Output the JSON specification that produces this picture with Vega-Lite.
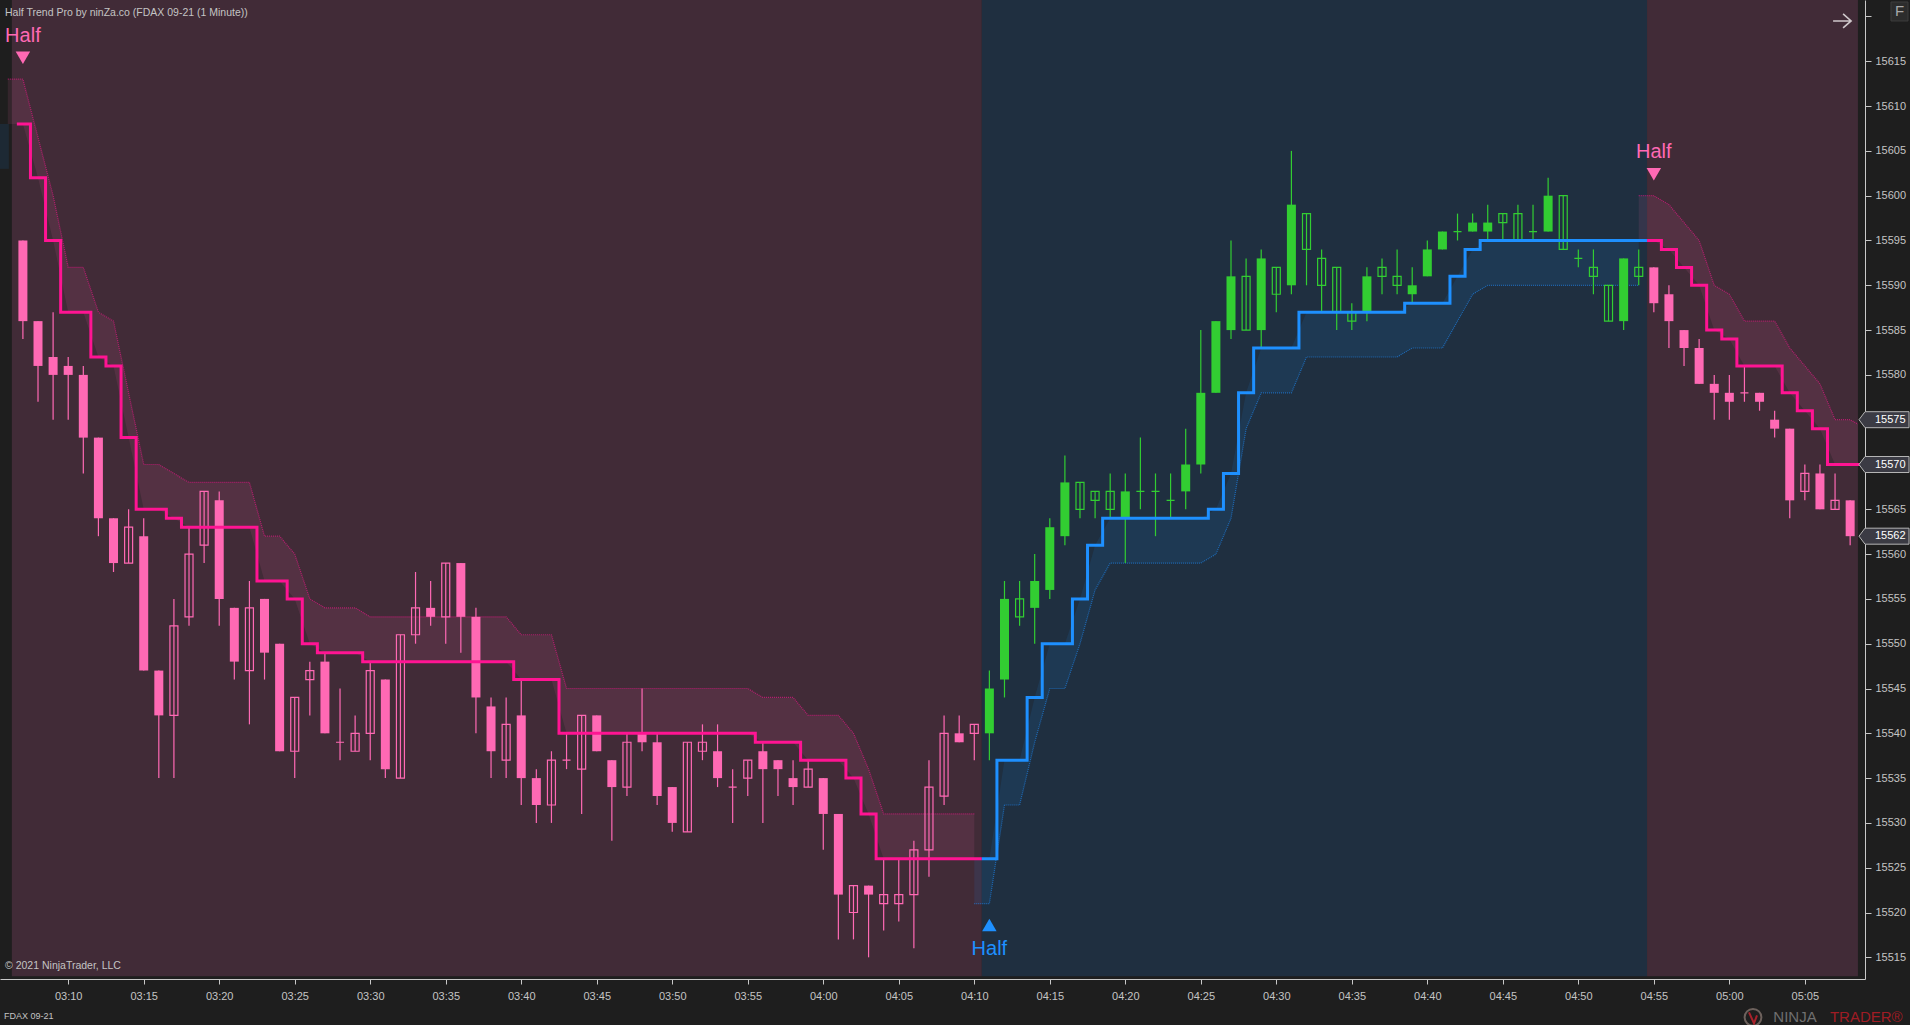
{
  "$schema": "https://vega.github.io/schema/vega-lite/v6.json",
  "width": 1865,
  "height": 979,
  "autosize": "none",
  "padding": {"left": 0, "top": 0, "right": 45, "bottom": 46},
  "background": "#1e1e1e",
  "config": {
    "view": {"stroke": null},
    "font": "Liberation Sans"
  },
  "datasets": {
    "regions": [
      {"t": "2021-08-20T03:06:16", "t2": "2021-08-20T04:10:30", "lo": 15512.9, "hi": 15621.84, "dir": "down"},
      {"t": "2021-08-20T04:10:30", "t2": "2021-08-20T04:54:33", "lo": 15512.9, "hi": 15621.84, "dir": "up"},
      {"t": "2021-08-20T04:54:33", "t2": "2021-08-20T05:08:31", "lo": 15512.9, "hi": 15621.84, "dir": "down"}
    ],
    "band": [
      {"t": "2021-08-20T03:05:29", "seg": "u0", "dir": "up", "edge": 15603, "base": 15608},
      {"t": "2021-08-20T03:06:04", "seg": "u0", "dir": "up", "edge": 15603, "base": 15608},
      {"t": "2021-08-20T03:06:00", "seg": "d1", "dir": "down", "edge": 15613, "base": 15608},
      {"t": "2021-08-20T03:07:00", "seg": "d1", "dir": "down", "edge": 15613, "base": 15608},
      {"t": "2021-08-20T03:08:00", "seg": "d1", "dir": "down", "edge": 15606.5, "base": 15602},
      {"t": "2021-08-20T03:09:00", "seg": "d1", "dir": "down", "edge": 15600, "base": 15595},
      {"t": "2021-08-20T03:10:00", "seg": "d1", "dir": "down", "edge": 15592, "base": 15587},
      {"t": "2021-08-20T03:11:00", "seg": "d1", "dir": "down", "edge": 15592, "base": 15587},
      {"t": "2021-08-20T03:12:00", "seg": "d1", "dir": "down", "edge": 15587, "base": 15582},
      {"t": "2021-08-20T03:13:00", "seg": "d1", "dir": "down", "edge": 15586, "base": 15581},
      {"t": "2021-08-20T03:14:00", "seg": "d1", "dir": "down", "edge": 15578, "base": 15573},
      {"t": "2021-08-20T03:15:00", "seg": "d1", "dir": "down", "edge": 15570, "base": 15565},
      {"t": "2021-08-20T03:16:00", "seg": "d1", "dir": "down", "edge": 15570, "base": 15565},
      {"t": "2021-08-20T03:17:00", "seg": "d1", "dir": "down", "edge": 15569, "base": 15564},
      {"t": "2021-08-20T03:18:00", "seg": "d1", "dir": "down", "edge": 15568, "base": 15563},
      {"t": "2021-08-20T03:22:00", "seg": "d1", "dir": "down", "edge": 15568, "base": 15563},
      {"t": "2021-08-20T03:23:00", "seg": "d1", "dir": "down", "edge": 15562, "base": 15557},
      {"t": "2021-08-20T03:24:00", "seg": "d1", "dir": "down", "edge": 15562, "base": 15557},
      {"t": "2021-08-20T03:25:00", "seg": "d1", "dir": "down", "edge": 15560, "base": 15555},
      {"t": "2021-08-20T03:26:00", "seg": "d1", "dir": "down", "edge": 15555, "base": 15550},
      {"t": "2021-08-20T03:27:00", "seg": "d1", "dir": "down", "edge": 15554, "base": 15549},
      {"t": "2021-08-20T03:29:00", "seg": "d1", "dir": "down", "edge": 15554, "base": 15549},
      {"t": "2021-08-20T03:30:00", "seg": "d1", "dir": "down", "edge": 15553, "base": 15548},
      {"t": "2021-08-20T03:39:00", "seg": "d1", "dir": "down", "edge": 15553, "base": 15548},
      {"t": "2021-08-20T03:40:00", "seg": "d1", "dir": "down", "edge": 15551, "base": 15546},
      {"t": "2021-08-20T03:42:00", "seg": "d1", "dir": "down", "edge": 15551, "base": 15546},
      {"t": "2021-08-20T03:43:00", "seg": "d1", "dir": "down", "edge": 15545, "base": 15540},
      {"t": "2021-08-20T03:55:00", "seg": "d1", "dir": "down", "edge": 15545, "base": 15540},
      {"t": "2021-08-20T03:56:00", "seg": "d1", "dir": "down", "edge": 15544, "base": 15539},
      {"t": "2021-08-20T03:58:00", "seg": "d1", "dir": "down", "edge": 15544, "base": 15539},
      {"t": "2021-08-20T03:59:00", "seg": "d1", "dir": "down", "edge": 15542, "base": 15537},
      {"t": "2021-08-20T04:01:00", "seg": "d1", "dir": "down", "edge": 15542, "base": 15537},
      {"t": "2021-08-20T04:02:00", "seg": "d1", "dir": "down", "edge": 15540, "base": 15535},
      {"t": "2021-08-20T04:03:00", "seg": "d1", "dir": "down", "edge": 15536, "base": 15531},
      {"t": "2021-08-20T04:04:00", "seg": "d1", "dir": "down", "edge": 15531, "base": 15526},
      {"t": "2021-08-20T04:10:00", "seg": "d1", "dir": "down", "edge": 15531, "base": 15526},
      {"t": "2021-08-20T04:10:00", "seg": "u1", "dir": "up", "edge": 15521, "base": 15526},
      {"t": "2021-08-20T04:11:00", "seg": "u1", "dir": "up", "edge": 15521, "base": 15526},
      {"t": "2021-08-20T04:12:00", "seg": "u1", "dir": "up", "edge": 15532, "base": 15537},
      {"t": "2021-08-20T04:13:00", "seg": "u1", "dir": "up", "edge": 15532, "base": 15537},
      {"t": "2021-08-20T04:14:00", "seg": "u1", "dir": "up", "edge": 15539, "base": 15544},
      {"t": "2021-08-20T04:15:00", "seg": "u1", "dir": "up", "edge": 15545, "base": 15550},
      {"t": "2021-08-20T04:16:00", "seg": "u1", "dir": "up", "edge": 15545, "base": 15550},
      {"t": "2021-08-20T04:17:00", "seg": "u1", "dir": "up", "edge": 15550, "base": 15555},
      {"t": "2021-08-20T04:18:00", "seg": "u1", "dir": "up", "edge": 15556, "base": 15561},
      {"t": "2021-08-20T04:19:00", "seg": "u1", "dir": "up", "edge": 15559, "base": 15564},
      {"t": "2021-08-20T04:25:00", "seg": "u1", "dir": "up", "edge": 15559, "base": 15564},
      {"t": "2021-08-20T04:26:00", "seg": "u1", "dir": "up", "edge": 15560, "base": 15565},
      {"t": "2021-08-20T04:27:00", "seg": "u1", "dir": "up", "edge": 15564, "base": 15569},
      {"t": "2021-08-20T04:28:00", "seg": "u1", "dir": "up", "edge": 15574, "base": 15578},
      {"t": "2021-08-20T04:29:00", "seg": "u1", "dir": "up", "edge": 15578, "base": 15583},
      {"t": "2021-08-20T04:31:00", "seg": "u1", "dir": "up", "edge": 15578, "base": 15583},
      {"t": "2021-08-20T04:32:00", "seg": "u1", "dir": "up", "edge": 15582, "base": 15587},
      {"t": "2021-08-20T04:38:00", "seg": "u1", "dir": "up", "edge": 15582, "base": 15587},
      {"t": "2021-08-20T04:39:00", "seg": "u1", "dir": "up", "edge": 15583, "base": 15588},
      {"t": "2021-08-20T04:41:00", "seg": "u1", "dir": "up", "edge": 15583, "base": 15588},
      {"t": "2021-08-20T04:42:00", "seg": "u1", "dir": "up", "edge": 15586, "base": 15591},
      {"t": "2021-08-20T04:43:00", "seg": "u1", "dir": "up", "edge": 15589, "base": 15594},
      {"t": "2021-08-20T04:44:00", "seg": "u1", "dir": "up", "edge": 15590, "base": 15595},
      {"t": "2021-08-20T04:54:00", "seg": "u1", "dir": "up", "edge": 15590, "base": 15595},
      {"t": "2021-08-20T04:54:00", "seg": "d2", "dir": "down", "edge": 15600, "base": 15595},
      {"t": "2021-08-20T04:55:00", "seg": "d2", "dir": "down", "edge": 15600, "base": 15595},
      {"t": "2021-08-20T04:56:00", "seg": "d2", "dir": "down", "edge": 15599, "base": 15594},
      {"t": "2021-08-20T04:57:00", "seg": "d2", "dir": "down", "edge": 15597, "base": 15592},
      {"t": "2021-08-20T04:58:00", "seg": "d2", "dir": "down", "edge": 15595, "base": 15590},
      {"t": "2021-08-20T04:59:00", "seg": "d2", "dir": "down", "edge": 15590, "base": 15585},
      {"t": "2021-08-20T05:00:00", "seg": "d2", "dir": "down", "edge": 15589, "base": 15584},
      {"t": "2021-08-20T05:01:00", "seg": "d2", "dir": "down", "edge": 15586, "base": 15581},
      {"t": "2021-08-20T05:03:00", "seg": "d2", "dir": "down", "edge": 15586, "base": 15581},
      {"t": "2021-08-20T05:04:00", "seg": "d2", "dir": "down", "edge": 15583, "base": 15578},
      {"t": "2021-08-20T05:05:00", "seg": "d2", "dir": "down", "edge": 15581, "base": 15576},
      {"t": "2021-08-20T05:06:00", "seg": "d2", "dir": "down", "edge": 15579, "base": 15574},
      {"t": "2021-08-20T05:07:00", "seg": "d2", "dir": "down", "edge": 15575, "base": 15570},
      {"t": "2021-08-20T05:08:00", "seg": "d2", "dir": "down", "edge": 15575, "base": 15570},
      {"t": "2021-08-20T05:08:31", "seg": "d2", "dir": "down", "edge": 15574.5, "base": 15570}
    ],
    "trend": [
      {"t": "2021-08-20T03:06:36", "seg": "d1", "dir": "down", "v": 15608},
      {"t": "2021-08-20T03:07:00", "seg": "d1", "dir": "down", "v": 15608},
      {"t": "2021-08-20T03:08:00", "seg": "d1", "dir": "down", "v": 15602},
      {"t": "2021-08-20T03:09:00", "seg": "d1", "dir": "down", "v": 15595},
      {"t": "2021-08-20T03:10:00", "seg": "d1", "dir": "down", "v": 15587},
      {"t": "2021-08-20T03:11:00", "seg": "d1", "dir": "down", "v": 15587},
      {"t": "2021-08-20T03:12:00", "seg": "d1", "dir": "down", "v": 15582},
      {"t": "2021-08-20T03:13:00", "seg": "d1", "dir": "down", "v": 15581},
      {"t": "2021-08-20T03:14:00", "seg": "d1", "dir": "down", "v": 15573},
      {"t": "2021-08-20T03:15:00", "seg": "d1", "dir": "down", "v": 15565},
      {"t": "2021-08-20T03:16:00", "seg": "d1", "dir": "down", "v": 15565},
      {"t": "2021-08-20T03:17:00", "seg": "d1", "dir": "down", "v": 15564},
      {"t": "2021-08-20T03:18:00", "seg": "d1", "dir": "down", "v": 15563},
      {"t": "2021-08-20T03:19:00", "seg": "d1", "dir": "down", "v": 15563},
      {"t": "2021-08-20T03:20:00", "seg": "d1", "dir": "down", "v": 15563},
      {"t": "2021-08-20T03:21:00", "seg": "d1", "dir": "down", "v": 15563},
      {"t": "2021-08-20T03:22:00", "seg": "d1", "dir": "down", "v": 15563},
      {"t": "2021-08-20T03:23:00", "seg": "d1", "dir": "down", "v": 15557},
      {"t": "2021-08-20T03:24:00", "seg": "d1", "dir": "down", "v": 15557},
      {"t": "2021-08-20T03:25:00", "seg": "d1", "dir": "down", "v": 15555},
      {"t": "2021-08-20T03:26:00", "seg": "d1", "dir": "down", "v": 15550},
      {"t": "2021-08-20T03:27:00", "seg": "d1", "dir": "down", "v": 15549},
      {"t": "2021-08-20T03:28:00", "seg": "d1", "dir": "down", "v": 15549},
      {"t": "2021-08-20T03:29:00", "seg": "d1", "dir": "down", "v": 15549},
      {"t": "2021-08-20T03:30:00", "seg": "d1", "dir": "down", "v": 15548},
      {"t": "2021-08-20T03:31:00", "seg": "d1", "dir": "down", "v": 15548},
      {"t": "2021-08-20T03:32:00", "seg": "d1", "dir": "down", "v": 15548},
      {"t": "2021-08-20T03:33:00", "seg": "d1", "dir": "down", "v": 15548},
      {"t": "2021-08-20T03:34:00", "seg": "d1", "dir": "down", "v": 15548},
      {"t": "2021-08-20T03:35:00", "seg": "d1", "dir": "down", "v": 15548},
      {"t": "2021-08-20T03:36:00", "seg": "d1", "dir": "down", "v": 15548},
      {"t": "2021-08-20T03:37:00", "seg": "d1", "dir": "down", "v": 15548},
      {"t": "2021-08-20T03:38:00", "seg": "d1", "dir": "down", "v": 15548},
      {"t": "2021-08-20T03:39:00", "seg": "d1", "dir": "down", "v": 15548},
      {"t": "2021-08-20T03:40:00", "seg": "d1", "dir": "down", "v": 15546},
      {"t": "2021-08-20T03:41:00", "seg": "d1", "dir": "down", "v": 15546},
      {"t": "2021-08-20T03:42:00", "seg": "d1", "dir": "down", "v": 15546},
      {"t": "2021-08-20T03:43:00", "seg": "d1", "dir": "down", "v": 15540},
      {"t": "2021-08-20T03:44:00", "seg": "d1", "dir": "down", "v": 15540},
      {"t": "2021-08-20T03:45:00", "seg": "d1", "dir": "down", "v": 15540},
      {"t": "2021-08-20T03:46:00", "seg": "d1", "dir": "down", "v": 15540},
      {"t": "2021-08-20T03:47:00", "seg": "d1", "dir": "down", "v": 15540},
      {"t": "2021-08-20T03:48:00", "seg": "d1", "dir": "down", "v": 15540},
      {"t": "2021-08-20T03:49:00", "seg": "d1", "dir": "down", "v": 15540},
      {"t": "2021-08-20T03:50:00", "seg": "d1", "dir": "down", "v": 15540},
      {"t": "2021-08-20T03:51:00", "seg": "d1", "dir": "down", "v": 15540},
      {"t": "2021-08-20T03:52:00", "seg": "d1", "dir": "down", "v": 15540},
      {"t": "2021-08-20T03:53:00", "seg": "d1", "dir": "down", "v": 15540},
      {"t": "2021-08-20T03:54:00", "seg": "d1", "dir": "down", "v": 15540},
      {"t": "2021-08-20T03:55:00", "seg": "d1", "dir": "down", "v": 15540},
      {"t": "2021-08-20T03:56:00", "seg": "d1", "dir": "down", "v": 15539},
      {"t": "2021-08-20T03:57:00", "seg": "d1", "dir": "down", "v": 15539},
      {"t": "2021-08-20T03:58:00", "seg": "d1", "dir": "down", "v": 15539},
      {"t": "2021-08-20T03:59:00", "seg": "d1", "dir": "down", "v": 15537},
      {"t": "2021-08-20T04:00:00", "seg": "d1", "dir": "down", "v": 15537},
      {"t": "2021-08-20T04:01:00", "seg": "d1", "dir": "down", "v": 15537},
      {"t": "2021-08-20T04:02:00", "seg": "d1", "dir": "down", "v": 15535},
      {"t": "2021-08-20T04:03:00", "seg": "d1", "dir": "down", "v": 15531},
      {"t": "2021-08-20T04:04:00", "seg": "d1", "dir": "down", "v": 15526},
      {"t": "2021-08-20T04:05:00", "seg": "d1", "dir": "down", "v": 15526},
      {"t": "2021-08-20T04:06:00", "seg": "d1", "dir": "down", "v": 15526},
      {"t": "2021-08-20T04:07:00", "seg": "d1", "dir": "down", "v": 15526},
      {"t": "2021-08-20T04:08:00", "seg": "d1", "dir": "down", "v": 15526},
      {"t": "2021-08-20T04:09:00", "seg": "d1", "dir": "down", "v": 15526},
      {"t": "2021-08-20T04:10:00", "seg": "d1", "dir": "down", "v": 15526},
      {"t": "2021-08-20T04:10:30", "seg": "d1", "dir": "down", "v": 15526},
      {"t": "2021-08-20T04:10:30", "seg": "u1", "dir": "up", "v": 15526},
      {"t": "2021-08-20T04:11:00", "seg": "u1", "dir": "up", "v": 15526},
      {"t": "2021-08-20T04:12:00", "seg": "u1", "dir": "up", "v": 15537},
      {"t": "2021-08-20T04:13:00", "seg": "u1", "dir": "up", "v": 15537},
      {"t": "2021-08-20T04:14:00", "seg": "u1", "dir": "up", "v": 15544},
      {"t": "2021-08-20T04:15:00", "seg": "u1", "dir": "up", "v": 15550},
      {"t": "2021-08-20T04:16:00", "seg": "u1", "dir": "up", "v": 15550},
      {"t": "2021-08-20T04:17:00", "seg": "u1", "dir": "up", "v": 15555},
      {"t": "2021-08-20T04:18:00", "seg": "u1", "dir": "up", "v": 15561},
      {"t": "2021-08-20T04:19:00", "seg": "u1", "dir": "up", "v": 15564},
      {"t": "2021-08-20T04:20:00", "seg": "u1", "dir": "up", "v": 15564},
      {"t": "2021-08-20T04:21:00", "seg": "u1", "dir": "up", "v": 15564},
      {"t": "2021-08-20T04:22:00", "seg": "u1", "dir": "up", "v": 15564},
      {"t": "2021-08-20T04:23:00", "seg": "u1", "dir": "up", "v": 15564},
      {"t": "2021-08-20T04:24:00", "seg": "u1", "dir": "up", "v": 15564},
      {"t": "2021-08-20T04:25:00", "seg": "u1", "dir": "up", "v": 15564},
      {"t": "2021-08-20T04:26:00", "seg": "u1", "dir": "up", "v": 15565},
      {"t": "2021-08-20T04:27:00", "seg": "u1", "dir": "up", "v": 15569},
      {"t": "2021-08-20T04:28:00", "seg": "u1", "dir": "up", "v": 15578},
      {"t": "2021-08-20T04:29:00", "seg": "u1", "dir": "up", "v": 15583},
      {"t": "2021-08-20T04:30:00", "seg": "u1", "dir": "up", "v": 15583},
      {"t": "2021-08-20T04:31:00", "seg": "u1", "dir": "up", "v": 15583},
      {"t": "2021-08-20T04:32:00", "seg": "u1", "dir": "up", "v": 15587},
      {"t": "2021-08-20T04:33:00", "seg": "u1", "dir": "up", "v": 15587},
      {"t": "2021-08-20T04:34:00", "seg": "u1", "dir": "up", "v": 15587},
      {"t": "2021-08-20T04:35:00", "seg": "u1", "dir": "up", "v": 15587},
      {"t": "2021-08-20T04:36:00", "seg": "u1", "dir": "up", "v": 15587},
      {"t": "2021-08-20T04:37:00", "seg": "u1", "dir": "up", "v": 15587},
      {"t": "2021-08-20T04:38:00", "seg": "u1", "dir": "up", "v": 15587},
      {"t": "2021-08-20T04:39:00", "seg": "u1", "dir": "up", "v": 15588},
      {"t": "2021-08-20T04:40:00", "seg": "u1", "dir": "up", "v": 15588},
      {"t": "2021-08-20T04:41:00", "seg": "u1", "dir": "up", "v": 15588},
      {"t": "2021-08-20T04:42:00", "seg": "u1", "dir": "up", "v": 15591},
      {"t": "2021-08-20T04:43:00", "seg": "u1", "dir": "up", "v": 15594},
      {"t": "2021-08-20T04:44:00", "seg": "u1", "dir": "up", "v": 15595},
      {"t": "2021-08-20T04:45:00", "seg": "u1", "dir": "up", "v": 15595},
      {"t": "2021-08-20T04:46:00", "seg": "u1", "dir": "up", "v": 15595},
      {"t": "2021-08-20T04:47:00", "seg": "u1", "dir": "up", "v": 15595},
      {"t": "2021-08-20T04:48:00", "seg": "u1", "dir": "up", "v": 15595},
      {"t": "2021-08-20T04:49:00", "seg": "u1", "dir": "up", "v": 15595},
      {"t": "2021-08-20T04:50:00", "seg": "u1", "dir": "up", "v": 15595},
      {"t": "2021-08-20T04:51:00", "seg": "u1", "dir": "up", "v": 15595},
      {"t": "2021-08-20T04:52:00", "seg": "u1", "dir": "up", "v": 15595},
      {"t": "2021-08-20T04:53:00", "seg": "u1", "dir": "up", "v": 15595},
      {"t": "2021-08-20T04:54:00", "seg": "u1", "dir": "up", "v": 15595},
      {"t": "2021-08-20T04:54:33", "seg": "u1", "dir": "up", "v": 15595},
      {"t": "2021-08-20T04:54:33", "seg": "d2", "dir": "down", "v": 15595},
      {"t": "2021-08-20T04:55:00", "seg": "d2", "dir": "down", "v": 15595},
      {"t": "2021-08-20T04:56:00", "seg": "d2", "dir": "down", "v": 15594},
      {"t": "2021-08-20T04:57:00", "seg": "d2", "dir": "down", "v": 15592},
      {"t": "2021-08-20T04:58:00", "seg": "d2", "dir": "down", "v": 15590},
      {"t": "2021-08-20T04:59:00", "seg": "d2", "dir": "down", "v": 15585},
      {"t": "2021-08-20T05:00:00", "seg": "d2", "dir": "down", "v": 15584},
      {"t": "2021-08-20T05:01:00", "seg": "d2", "dir": "down", "v": 15581},
      {"t": "2021-08-20T05:02:00", "seg": "d2", "dir": "down", "v": 15581},
      {"t": "2021-08-20T05:03:00", "seg": "d2", "dir": "down", "v": 15581},
      {"t": "2021-08-20T05:04:00", "seg": "d2", "dir": "down", "v": 15578},
      {"t": "2021-08-20T05:05:00", "seg": "d2", "dir": "down", "v": 15576},
      {"t": "2021-08-20T05:06:00", "seg": "d2", "dir": "down", "v": 15574},
      {"t": "2021-08-20T05:07:00", "seg": "d2", "dir": "down", "v": 15570},
      {"t": "2021-08-20T05:08:00", "seg": "d2", "dir": "down", "v": 15570},
      {"t": "2021-08-20T05:08:39", "seg": "d2", "dir": "down", "v": 15570}
    ],
    "candles": [
      {"t": "2021-08-20T03:07:00", "dir": "down", "o": 15595, "c": 15586, "h": 15595, "l": 15584},
      {"t": "2021-08-20T03:08:00", "dir": "down", "o": 15586, "c": 15581, "h": 15586, "l": 15577},
      {"t": "2021-08-20T03:09:00", "dir": "down", "o": 15582, "c": 15580, "h": 15587, "l": 15575},
      {"t": "2021-08-20T03:10:00", "dir": "down", "o": 15581, "c": 15580, "h": 15582, "l": 15575},
      {"t": "2021-08-20T03:11:00", "dir": "down", "o": 15580, "c": 15573, "h": 15581, "l": 15569},
      {"t": "2021-08-20T03:12:00", "dir": "down", "o": 15573, "c": 15564, "h": 15573, "l": 15562},
      {"t": "2021-08-20T03:13:00", "dir": "down", "o": 15564, "c": 15559, "h": 15564, "l": 15558},
      {"t": "2021-08-20T03:14:00", "dir": "down", "o": 15559, "c": 15563, "h": 15565, "l": 15559},
      {"t": "2021-08-20T03:15:00", "dir": "down", "o": 15562, "c": 15547, "h": 15564, "l": 15547},
      {"t": "2021-08-20T03:16:00", "dir": "down", "o": 15547, "c": 15542, "h": 15547, "l": 15535},
      {"t": "2021-08-20T03:17:00", "dir": "down", "o": 15542, "c": 15552, "h": 15555, "l": 15535},
      {"t": "2021-08-20T03:18:00", "dir": "down", "o": 15553, "c": 15560, "h": 15563, "l": 15552},
      {"t": "2021-08-20T03:19:00", "dir": "down", "o": 15561, "c": 15567, "h": 15567, "l": 15559},
      {"t": "2021-08-20T03:20:00", "dir": "down", "o": 15566, "c": 15555, "h": 15567, "l": 15552},
      {"t": "2021-08-20T03:21:00", "dir": "down", "o": 15554, "c": 15548, "h": 15554, "l": 15546},
      {"t": "2021-08-20T03:22:00", "dir": "down", "o": 15547, "c": 15554, "h": 15557, "l": 15541},
      {"t": "2021-08-20T03:23:00", "dir": "down", "o": 15555, "c": 15549, "h": 15555, "l": 15546},
      {"t": "2021-08-20T03:24:00", "dir": "down", "o": 15550, "c": 15538, "h": 15550, "l": 15538},
      {"t": "2021-08-20T03:25:00", "dir": "down", "o": 15538, "c": 15544, "h": 15544, "l": 15535},
      {"t": "2021-08-20T03:26:00", "dir": "down", "o": 15546, "c": 15547, "h": 15548, "l": 15542},
      {"t": "2021-08-20T03:27:00", "dir": "down", "o": 15548, "c": 15540, "h": 15549, "l": 15540},
      {"t": "2021-08-20T03:28:00", "dir": "down", "o": 15539, "c": 15539, "h": 15545, "l": 15537},
      {"t": "2021-08-20T03:29:00", "dir": "down", "o": 15538, "c": 15540, "h": 15542, "l": 15538},
      {"t": "2021-08-20T03:30:00", "dir": "down", "o": 15540, "c": 15547, "h": 15548, "l": 15537},
      {"t": "2021-08-20T03:31:00", "dir": "down", "o": 15546, "c": 15536, "h": 15546, "l": 15535},
      {"t": "2021-08-20T03:32:00", "dir": "down", "o": 15535, "c": 15551, "h": 15551, "l": 15535},
      {"t": "2021-08-20T03:33:00", "dir": "down", "o": 15551, "c": 15554, "h": 15558, "l": 15550},
      {"t": "2021-08-20T03:34:00", "dir": "down", "o": 15554, "c": 15553, "h": 15557, "l": 15552},
      {"t": "2021-08-20T03:35:00", "dir": "down", "o": 15553, "c": 15559, "h": 15559, "l": 15550},
      {"t": "2021-08-20T03:36:00", "dir": "down", "o": 15559, "c": 15553, "h": 15559, "l": 15549},
      {"t": "2021-08-20T03:37:00", "dir": "down", "o": 15553, "c": 15544, "h": 15554, "l": 15540},
      {"t": "2021-08-20T03:38:00", "dir": "down", "o": 15543, "c": 15538, "h": 15544, "l": 15535},
      {"t": "2021-08-20T03:39:00", "dir": "down", "o": 15537, "c": 15541, "h": 15544, "l": 15535},
      {"t": "2021-08-20T03:40:00", "dir": "down", "o": 15542, "c": 15535, "h": 15546, "l": 15532},
      {"t": "2021-08-20T03:41:00", "dir": "down", "o": 15535, "c": 15532, "h": 15536, "l": 15530},
      {"t": "2021-08-20T03:42:00", "dir": "down", "o": 15532, "c": 15537, "h": 15538, "l": 15530},
      {"t": "2021-08-20T03:43:00", "dir": "down", "o": 15537, "c": 15537, "h": 15540, "l": 15536},
      {"t": "2021-08-20T03:44:00", "dir": "down", "o": 15536, "c": 15542, "h": 15542, "l": 15531},
      {"t": "2021-08-20T03:45:00", "dir": "down", "o": 15542, "c": 15538, "h": 15542, "l": 15538},
      {"t": "2021-08-20T03:46:00", "dir": "down", "o": 15537, "c": 15534, "h": 15537, "l": 15528},
      {"t": "2021-08-20T03:47:00", "dir": "down", "o": 15534, "c": 15539, "h": 15540, "l": 15533},
      {"t": "2021-08-20T03:48:00", "dir": "down", "o": 15540, "c": 15539, "h": 15545, "l": 15538},
      {"t": "2021-08-20T03:49:00", "dir": "down", "o": 15539, "c": 15533, "h": 15540, "l": 15532},
      {"t": "2021-08-20T03:50:00", "dir": "down", "o": 15534, "c": 15530, "h": 15534, "l": 15529},
      {"t": "2021-08-20T03:51:00", "dir": "down", "o": 15529, "c": 15539, "h": 15539, "l": 15529},
      {"t": "2021-08-20T03:52:00", "dir": "down", "o": 15538, "c": 15539, "h": 15541, "l": 15537},
      {"t": "2021-08-20T03:53:00", "dir": "down", "o": 15538, "c": 15535, "h": 15541, "l": 15534},
      {"t": "2021-08-20T03:54:00", "dir": "down", "o": 15534, "c": 15534, "h": 15536, "l": 15530},
      {"t": "2021-08-20T03:55:00", "dir": "down", "o": 15535, "c": 15537, "h": 15537, "l": 15533},
      {"t": "2021-08-20T03:56:00", "dir": "down", "o": 15538, "c": 15536, "h": 15539, "l": 15530},
      {"t": "2021-08-20T03:57:00", "dir": "down", "o": 15537, "c": 15536, "h": 15537, "l": 15533},
      {"t": "2021-08-20T03:58:00", "dir": "down", "o": 15535, "c": 15534, "h": 15537, "l": 15532},
      {"t": "2021-08-20T03:59:00", "dir": "down", "o": 15534, "c": 15536, "h": 15537, "l": 15534},
      {"t": "2021-08-20T04:00:00", "dir": "down", "o": 15535, "c": 15531, "h": 15535, "l": 15527},
      {"t": "2021-08-20T04:01:00", "dir": "down", "o": 15531, "c": 15522, "h": 15531, "l": 15517},
      {"t": "2021-08-20T04:02:00", "dir": "down", "o": 15520, "c": 15523, "h": 15523, "l": 15517},
      {"t": "2021-08-20T04:03:00", "dir": "down", "o": 15523, "c": 15522, "h": 15523, "l": 15515},
      {"t": "2021-08-20T04:04:00", "dir": "down", "o": 15521, "c": 15522, "h": 15526, "l": 15518},
      {"t": "2021-08-20T04:05:00", "dir": "down", "o": 15521, "c": 15522, "h": 15526, "l": 15519},
      {"t": "2021-08-20T04:06:00", "dir": "down", "o": 15522, "c": 15527, "h": 15528, "l": 15516},
      {"t": "2021-08-20T04:07:00", "dir": "down", "o": 15527, "c": 15534, "h": 15537, "l": 15524},
      {"t": "2021-08-20T04:08:00", "dir": "down", "o": 15533, "c": 15540, "h": 15542, "l": 15532},
      {"t": "2021-08-20T04:09:00", "dir": "down", "o": 15540, "c": 15539, "h": 15542, "l": 15539},
      {"t": "2021-08-20T04:10:00", "dir": "down", "o": 15540, "c": 15541, "h": 15541, "l": 15537},
      {"t": "2021-08-20T04:11:00", "dir": "up", "o": 15545, "c": 15540, "h": 15547, "l": 15537},
      {"t": "2021-08-20T04:12:00", "dir": "up", "o": 15555, "c": 15546, "h": 15557, "l": 15544},
      {"t": "2021-08-20T04:13:00", "dir": "up", "o": 15553, "c": 15555, "h": 15557, "l": 15552},
      {"t": "2021-08-20T04:14:00", "dir": "up", "o": 15557, "c": 15554, "h": 15560, "l": 15550},
      {"t": "2021-08-20T04:15:00", "dir": "up", "o": 15563, "c": 15556, "h": 15564, "l": 15555},
      {"t": "2021-08-20T04:16:00", "dir": "up", "o": 15568, "c": 15562, "h": 15571, "l": 15561},
      {"t": "2021-08-20T04:17:00", "dir": "up", "o": 15565, "c": 15568, "h": 15568, "l": 15564},
      {"t": "2021-08-20T04:18:00", "dir": "up", "o": 15566, "c": 15567, "h": 15567, "l": 15564},
      {"t": "2021-08-20T04:19:00", "dir": "up", "o": 15565, "c": 15567, "h": 15569, "l": 15564},
      {"t": "2021-08-20T04:20:00", "dir": "up", "o": 15567, "c": 15564, "h": 15569, "l": 15559},
      {"t": "2021-08-20T04:21:00", "dir": "up", "o": 15567, "c": 15567, "h": 15573, "l": 15565},
      {"t": "2021-08-20T04:22:00", "dir": "up", "o": 15567, "c": 15567, "h": 15569, "l": 15562},
      {"t": "2021-08-20T04:23:00", "dir": "up", "o": 15566, "c": 15566, "h": 15569, "l": 15564},
      {"t": "2021-08-20T04:24:00", "dir": "up", "o": 15570, "c": 15567, "h": 15574, "l": 15565},
      {"t": "2021-08-20T04:25:00", "dir": "up", "o": 15578, "c": 15570, "h": 15585, "l": 15569},
      {"t": "2021-08-20T04:26:00", "dir": "up", "o": 15586, "c": 15578, "h": 15586, "l": 15578},
      {"t": "2021-08-20T04:27:00", "dir": "up", "o": 15591, "c": 15585, "h": 15595, "l": 15584},
      {"t": "2021-08-20T04:28:00", "dir": "up", "o": 15585, "c": 15591, "h": 15593, "l": 15585},
      {"t": "2021-08-20T04:29:00", "dir": "up", "o": 15593, "c": 15585, "h": 15594, "l": 15583},
      {"t": "2021-08-20T04:30:00", "dir": "up", "o": 15589, "c": 15592, "h": 15592, "l": 15587},
      {"t": "2021-08-20T04:31:00", "dir": "up", "o": 15599, "c": 15590, "h": 15605, "l": 15589},
      {"t": "2021-08-20T04:32:00", "dir": "up", "o": 15594, "c": 15598, "h": 15598, "l": 15590},
      {"t": "2021-08-20T04:33:00", "dir": "up", "o": 15590, "c": 15593, "h": 15594, "l": 15587},
      {"t": "2021-08-20T04:34:00", "dir": "up", "o": 15587, "c": 15592, "h": 15592, "l": 15585},
      {"t": "2021-08-20T04:35:00", "dir": "up", "o": 15586, "c": 15587, "h": 15588, "l": 15585},
      {"t": "2021-08-20T04:36:00", "dir": "up", "o": 15591, "c": 15587, "h": 15592, "l": 15586},
      {"t": "2021-08-20T04:37:00", "dir": "up", "o": 15591, "c": 15592, "h": 15593, "l": 15589},
      {"t": "2021-08-20T04:38:00", "dir": "up", "o": 15590, "c": 15591, "h": 15594, "l": 15589},
      {"t": "2021-08-20T04:39:00", "dir": "up", "o": 15590, "c": 15589, "h": 15592, "l": 15588},
      {"t": "2021-08-20T04:40:00", "dir": "up", "o": 15594, "c": 15591, "h": 15595, "l": 15591},
      {"t": "2021-08-20T04:41:00", "dir": "up", "o": 15596, "c": 15594, "h": 15596, "l": 15594},
      {"t": "2021-08-20T04:42:00", "dir": "up", "o": 15596, "c": 15596, "h": 15598, "l": 15595},
      {"t": "2021-08-20T04:43:00", "dir": "up", "o": 15597, "c": 15596, "h": 15598, "l": 15596},
      {"t": "2021-08-20T04:44:00", "dir": "up", "o": 15597, "c": 15596, "h": 15599, "l": 15595},
      {"t": "2021-08-20T04:45:00", "dir": "up", "o": 15597, "c": 15598, "h": 15598, "l": 15595},
      {"t": "2021-08-20T04:46:00", "dir": "up", "o": 15595, "c": 15598, "h": 15599, "l": 15595},
      {"t": "2021-08-20T04:47:00", "dir": "up", "o": 15596, "c": 15596, "h": 15599, "l": 15595},
      {"t": "2021-08-20T04:48:00", "dir": "up", "o": 15600, "c": 15596, "h": 15602, "l": 15596},
      {"t": "2021-08-20T04:49:00", "dir": "up", "o": 15594, "c": 15600, "h": 15600, "l": 15594},
      {"t": "2021-08-20T04:50:00", "dir": "up", "o": 15593, "c": 15593, "h": 15594, "l": 15592},
      {"t": "2021-08-20T04:51:00", "dir": "up", "o": 15591, "c": 15592, "h": 15594, "l": 15589},
      {"t": "2021-08-20T04:52:00", "dir": "up", "o": 15586, "c": 15590, "h": 15590, "l": 15586},
      {"t": "2021-08-20T04:53:00", "dir": "up", "o": 15593, "c": 15586, "h": 15593, "l": 15585},
      {"t": "2021-08-20T04:54:00", "dir": "up", "o": 15591, "c": 15592, "h": 15594, "l": 15590},
      {"t": "2021-08-20T04:55:00", "dir": "down", "o": 15592, "c": 15588, "h": 15592, "l": 15587},
      {"t": "2021-08-20T04:56:00", "dir": "down", "o": 15589, "c": 15586, "h": 15590, "l": 15583},
      {"t": "2021-08-20T04:57:00", "dir": "down", "o": 15585, "c": 15583, "h": 15585, "l": 15581},
      {"t": "2021-08-20T04:58:00", "dir": "down", "o": 15583, "c": 15579, "h": 15584, "l": 15579},
      {"t": "2021-08-20T04:59:00", "dir": "down", "o": 15579, "c": 15578, "h": 15580, "l": 15575},
      {"t": "2021-08-20T05:00:00", "dir": "down", "o": 15578, "c": 15577, "h": 15580, "l": 15575},
      {"t": "2021-08-20T05:01:00", "dir": "down", "o": 15578, "c": 15578, "h": 15581, "l": 15577},
      {"t": "2021-08-20T05:02:00", "dir": "down", "o": 15578, "c": 15577, "h": 15578, "l": 15576},
      {"t": "2021-08-20T05:03:00", "dir": "down", "o": 15575, "c": 15574, "h": 15576, "l": 15573},
      {"t": "2021-08-20T05:04:00", "dir": "down", "o": 15574, "c": 15566, "h": 15574, "l": 15564},
      {"t": "2021-08-20T05:05:00", "dir": "down", "o": 15567, "c": 15569, "h": 15570, "l": 15566},
      {"t": "2021-08-20T05:06:00", "dir": "down", "o": 15569, "c": 15565, "h": 15570, "l": 15565},
      {"t": "2021-08-20T05:07:00", "dir": "down", "o": 15565, "c": 15566, "h": 15569, "l": 15565},
      {"t": "2021-08-20T05:08:00", "dir": "down", "o": 15566, "c": 15562, "h": 15566, "l": 15561}
    ],
    "signals": [
      {"t": "2021-08-20T03:07:00", "dir": "down", "marker": 15615.4, "labelAt": 15617.2, "label": "Half"},
      {"t": "2021-08-20T04:11:00", "dir": "up", "marker": 15518.6, "labelAt": 15515.3, "label": "Half"},
      {"t": "2021-08-20T04:55:00", "dir": "down", "marker": 15602.4, "labelAt": 15604.2, "label": "Half"}
    ],
    "tags": [
      {"t": "2021-08-20T05:08:59", "p": 15575, "label": "15575"},
      {"t": "2021-08-20T05:08:59", "p": 15570, "label": "15570"},
      {"t": "2021-08-20T05:08:59", "p": 15562, "label": "15562"}
    ]
  },
  "layer": [
    {
      "data": {"name": "regions", "format": {"parse": {"t": "date", "t2": "date"}}},
      "mark": {"type": "rect"},
      "encoding": {
        "x": {
          "field": "t",
          "type": "temporal",
          "scale": {
            "domain": [
              {"year": 2021, "month": 8, "date": 20, "hours": 3, "minutes": 5, "seconds": 29},
              {"year": 2021, "month": 8, "date": 20, "hours": 5, "minutes": 8, "seconds": 59}
            ],
            "padding": 0,
            "nice": false
          },
          "title": null,
          "axis": {
            "orient": "bottom",
            "format": "%H:%M",
            "grid": false,
            "domainColor": "#c8c8c8",
            "tickColor": "#c8c8c8",
            "tickSize": 5,
            "labelColor": "#c4c4c4",
            "labelFont": "Liberation Sans",
            "labelFontSize": 11,
            "labelPadding": 6,
            "labelFlush": false,
            "labelOverlap": false
          }
        },
        "x2": {"field": "t2"},
        "y": {
          "field": "lo",
          "type": "quantitative",
          "scale": {"domain": [15512.58, 15621.84], "nice": false, "zero": false},
          "title": null,
          "axis": {
            "orient": "right",
            "values": [15515, 15520, 15525, 15530, 15535, 15540, 15545, 15550, 15555, 15560, 15565, 15570, 15575, 15580, 15585, 15590, 15595, 15600, 15605, 15610, 15615, 15620],
            "format": "d",
            "labelExpr": "datum.value == 15620 || datum.value == 15575 || datum.value == 15570 ? '' : datum.label",
            "grid": false,
            "domainColor": "#c8c8c8",
            "tickColor": "#c8c8c8",
            "tickSize": 6,
            "labelColor": "#c4c4c4",
            "labelFont": "Liberation Sans",
            "labelFontSize": 11,
            "labelPadding": 4,
            "labelFlush": false,
            "labelOverlap": false
          }
        },
        "y2": {"field": "hi"},
        "color": {
          "condition": {"test": "datum.dir == 'up'", "value": "#1f2f40"},
          "value": "#412b37"
        }
      }
    },
    {
      "data": {"name": "band"},
      "mark": {"type": "area", "opacity": 0.1, "interpolate": "linear"},
      "encoding": {
        "x": {"field": "t", "type": "temporal"},
        "y": {"field": "edge", "type": "quantitative"},
        "y2": {"field": "base"},
        "detail": {"field": "seg"},
        "color": {
          "condition": {"test": "datum.dir == 'up'", "value": "#1E90FF"},
          "value": "#FF69B4"
        }
      }
    },
    {
      "data": {"name": "band"},
      "transform": [{"filter": "datum.seg != 'u0'"}],
      "mark": {"type": "line", "strokeWidth": 1.2, "strokeDash": [1, 1], "opacity": 0.6},
      "encoding": {
        "x": {"field": "t", "type": "temporal"},
        "y": {"field": "edge", "type": "quantitative"},
        "detail": {"field": "seg"},
        "color": {
          "condition": {"test": "datum.dir == 'up'", "value": "#1E90FF"},
          "value": "#FF1493"
        }
      }
    },
    {
      "data": {"name": "candles"},
      "mark": {"type": "rule", "strokeWidth": 1.2},
      "encoding": {
        "x": {"field": "t", "type": "temporal"},
        "y": {"field": "l", "type": "quantitative"},
        "y2": {"field": "h"},
        "color": {
          "condition": {"test": "datum.dir == 'up'", "value": "#32CD32"},
          "value": "#FF69B4"
        }
      }
    },
    {
      "data": {"name": "candles"},
      "transform": [{"filter": "datum.o > datum.c"}],
      "mark": {"type": "bar", "width": 9},
      "encoding": {
        "x": {"field": "t", "type": "temporal"},
        "y": {"field": "c", "type": "quantitative"},
        "y2": {"field": "o"},
        "color": {
          "condition": {"test": "datum.dir == 'up'", "value": "#32CD32"},
          "value": "#FF69B4"
        }
      }
    },
    {
      "data": {"name": "candles"},
      "transform": [{"filter": "datum.o <= datum.c"}],
      "mark": {"type": "bar", "width": 8, "filled": false, "strokeWidth": 1.2, "opacity": 1},
      "encoding": {
        "x": {"field": "t", "type": "temporal"},
        "y": {"field": "o", "type": "quantitative"},
        "y2": {"field": "c"},
        "stroke": {
          "condition": {"test": "datum.dir == 'up'", "value": "#32CD32"},
          "value": "#FF69B4"
        }
      }
    },
    {
      "data": {"name": "trend"},
      "mark": {"type": "line", "interpolate": "step", "strokeWidth": 3, "strokeJoin": "miter", "strokeCap": "butt"},
      "encoding": {
        "x": {"field": "t", "type": "temporal"},
        "y": {"field": "v", "type": "quantitative"},
        "detail": {"field": "seg"},
        "color": {
          "condition": {"test": "datum.dir == 'up'", "value": "#1E90FF"},
          "value": "#FF1493"
        }
      }
    },
    {
      "data": {"name": "signals"},
      "transform": [{"filter": "datum.dir == 'down'"}],
      "mark": {"type": "point", "shape": "triangle-down", "filled": true, "opacity": 1, "size": 210, "fill": "#FF69B4"},
      "encoding": {
        "x": {"field": "t", "type": "temporal"},
        "y": {"field": "marker", "type": "quantitative"}
      }
    },
    {
      "data": {"name": "signals"},
      "transform": [{"filter": "datum.dir == 'up'"}],
      "mark": {"type": "point", "shape": "triangle-up", "filled": true, "opacity": 1, "size": 210, "fill": "#1E90FF"},
      "encoding": {
        "x": {"field": "t", "type": "temporal"},
        "y": {"field": "marker", "type": "quantitative"}
      }
    },
    {
      "data": {"name": "signals"},
      "mark": {"type": "text", "font": "Liberation Sans", "fontSize": 20, "align": "center", "baseline": "alphabetic"},
      "encoding": {
        "x": {"field": "t", "type": "temporal"},
        "y": {"field": "labelAt", "type": "quantitative"},
        "text": {"field": "label"},
        "color": {
          "condition": {"test": "datum.dir == 'up'", "value": "#1E90FF"},
          "value": "#FF69B4"
        }
      }
    },
    {
      "data": {"name": "tags"},
      "mark": {"type": "point", "shape": "M-6 0L0 -8H44V8H0Z", "size": 4, "filled": true, "opacity": 1, "fill": "#3b3b44", "stroke": "#b5b5b5", "strokeWidth": 1},
      "encoding": {
        "x": {"field": "t", "type": "temporal"},
        "y": {"field": "p", "type": "quantitative"}
      }
    },
    {
      "data": {"name": "tags"},
      "mark": {"type": "text", "font": "Liberation Sans", "fontSize": 11, "align": "left", "baseline": "middle", "dx": 10, "color": "#ffffff"},
      "encoding": {
        "x": {"field": "t", "type": "temporal"},
        "y": {"field": "p", "type": "quantitative"},
        "text": {"field": "label"}
      }
    },
    {
      "data": {"values": [
        {"t": "2021-08-20T03:05:49", "p": 15620.1, "label": "Half Trend Pro by ninZa.co (FDAX 09-21 (1 Minute))"},
        {"t": "2021-08-20T03:05:49", "p": 15513.7, "label": "© 2021 NinjaTrader, LLC"}
      ]},
      "mark": {"type": "text", "font": "Liberation Sans", "fontSize": 10.5, "align": "left", "baseline": "alphabetic", "color": "#c4c4c4"},
      "encoding": {
        "x": {"field": "t", "type": "temporal"},
        "y": {"field": "p", "type": "quantitative"},
        "text": {"field": "label"}
      }
    },
    {
      "data": {"values": [{"t": "2021-08-20T03:05:45", "p": 15508.1, "label": "FDAX 09-21"}]},
      "mark": {"type": "text", "font": "Liberation Sans", "fontSize": 9, "align": "left", "baseline": "alphabetic", "color": "#c4c4c4"},
      "encoding": {
        "x": {"field": "t", "type": "temporal"},
        "y": {"field": "p", "type": "quantitative"},
        "text": {"field": "label"}
      }
    },
    {
      "data": {"values": [{"t": "2021-08-20T05:07:28", "p": 15619.5}]},
      "mark": {"type": "point", "shape": "M-9 0H9M1 -7L9 0L1 7", "size": 4, "filled": false, "opacity": 1, "stroke": "#cfc8cb", "strokeWidth": 1.6},
      "encoding": {
        "x": {"field": "t", "type": "temporal"},
        "y": {"field": "p", "type": "quantitative"}
      }
    },
    {
      "data": {"values": [{"t": "2021-08-20T05:11:16", "p": 15620.56, "label": "F"}]},
      "mark": {"type": "point", "shape": "M-8.5 -9.5H8.5V9.5H-8.5Z", "size": 4, "filled": true, "opacity": 1, "fill": "#2c2c2c", "stroke": "#3e3e3e", "strokeWidth": 1},
      "encoding": {
        "x": {"field": "t", "type": "temporal"},
        "y": {"field": "p", "type": "quantitative"}
      }
    },
    {
      "data": {"values": [{"t": "2021-08-20T05:11:16", "p": 15620.56, "label": "F"}]},
      "mark": {"type": "text", "font": "Liberation Sans", "fontSize": 15, "align": "center", "baseline": "middle", "color": "#a8a8a8"},
      "encoding": {
        "x": {"field": "t", "type": "temporal"},
        "y": {"field": "p", "type": "quantitative"},
        "text": {"field": "label"}
      }
    },
    {
      "data": {"values": [{"t": "2021-08-20T05:01:34", "p": 15508.3}]},
      "mark": {"type": "point", "shape": "circle", "size": 283, "filled": false, "opacity": 1, "stroke": "#6d615c", "strokeWidth": 2},
      "encoding": {
        "x": {"field": "t", "type": "temporal"},
        "y": {"field": "p", "type": "quantitative"}
      }
    },
    {
      "data": {"values": [{"t": "2021-08-20T05:01:34", "p": 15508.3}]},
      "mark": {"type": "point", "shape": "M-4 -5L1 6L4 -2", "size": 4, "filled": false, "opacity": 1, "stroke": "#a8222b", "strokeWidth": 2},
      "encoding": {
        "x": {"field": "t", "type": "temporal"},
        "y": {"field": "p", "type": "quantitative"}
      }
    },
    {
      "data": {"values": [{"t": "2021-08-20T05:04:21", "p": 15508.3, "label": "NINJA"}]},
      "mark": {"type": "text", "font": "Liberation Sans", "fontSize": 15, "align": "center", "baseline": "middle", "color": "#6f6f6f"},
      "encoding": {
        "x": {"field": "t", "type": "temporal"},
        "y": {"field": "p", "type": "quantitative"},
        "text": {"field": "label"}
      }
    },
    {
      "data": {"values": [{"t": "2021-08-20T05:09:04", "p": 15508.3, "label": "TRADER®"}]},
      "mark": {"type": "text", "font": "Liberation Sans", "fontSize": 15, "align": "center", "baseline": "middle", "color": "#a01c24"},
      "encoding": {
        "x": {"field": "t", "type": "temporal"},
        "y": {"field": "p", "type": "quantitative"},
        "text": {"field": "label"}
      }
    }
  ]
}
